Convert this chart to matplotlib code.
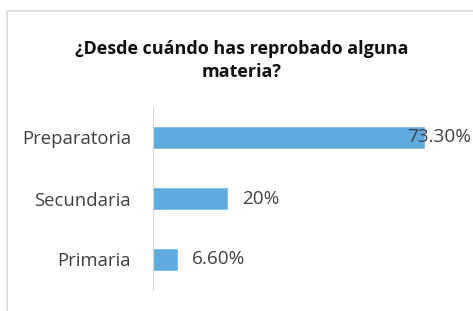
import matplotlib.pyplot as plt
from matplotlib.patches import Rectangle

categories = ['Primaria', 'Secundaria', 'Preparatoria']
values = [6.6, 20.0, 73.3]
labels = ['6.60%', '20%', '73.30%']
label_offsets = [4.0, 4.0, -4.7]  # data units from bar end (Excel overlap on the long bar)

plt.rcParams['font.family'] = ['Open Sans', 'DejaVu Sans']

W, H = 473, 311
fig = plt.figure(figsize=(W / 100, H / 100), dpi=100)

# chart area border (light gray box running off the right/bottom)
fig.patches.append(Rectangle((7 / W, -0.1), 1.2, (H - 11) / H + 0.1,
                             transform=fig.transFigure, fill=False,
                             edgecolor='#d9d9d9', linewidth=1.2))

fig.text(242 / W, 1 - 60.5 / H, '¿Desde cuándo has reprobado alguna\nmateria?',
         ha='center', va='center', fontsize=13, fontweight='bold',
         color='#111111', linespacing=1.3)

ax = fig.add_axes([153 / W, 21 / H, 300 / W, 183 / H])
ax.barh(range(len(categories)), values, height=0.345, color='#5FAADF',
        edgecolor='#7dbbe6', linewidth=0.6)
ax.set_xlim(0, 300 / 3.7)
ax.set_ylim(-0.5, 2.5)
ax.set_yticks(range(len(categories)))
ax.set_yticklabels(categories, fontsize=13.3, color='#404040')
ax.tick_params(axis='y', length=0, pad=15.8)
ax.set_xticks([])
for s in ['top', 'right', 'bottom']:
    ax.spines[s].set_visible(False)
ax.spines['left'].set_color('#d9d9d9')
ax.patch.set_visible(False)

for i, (v, lab, off) in enumerate(zip(values, labels, label_offsets)):
    ax.text(v + off, i, lab, ha='left', va='center', fontsize=13.6,
            color='#404040', clip_on=False)

fig.savefig('out.png', dpi=100)
